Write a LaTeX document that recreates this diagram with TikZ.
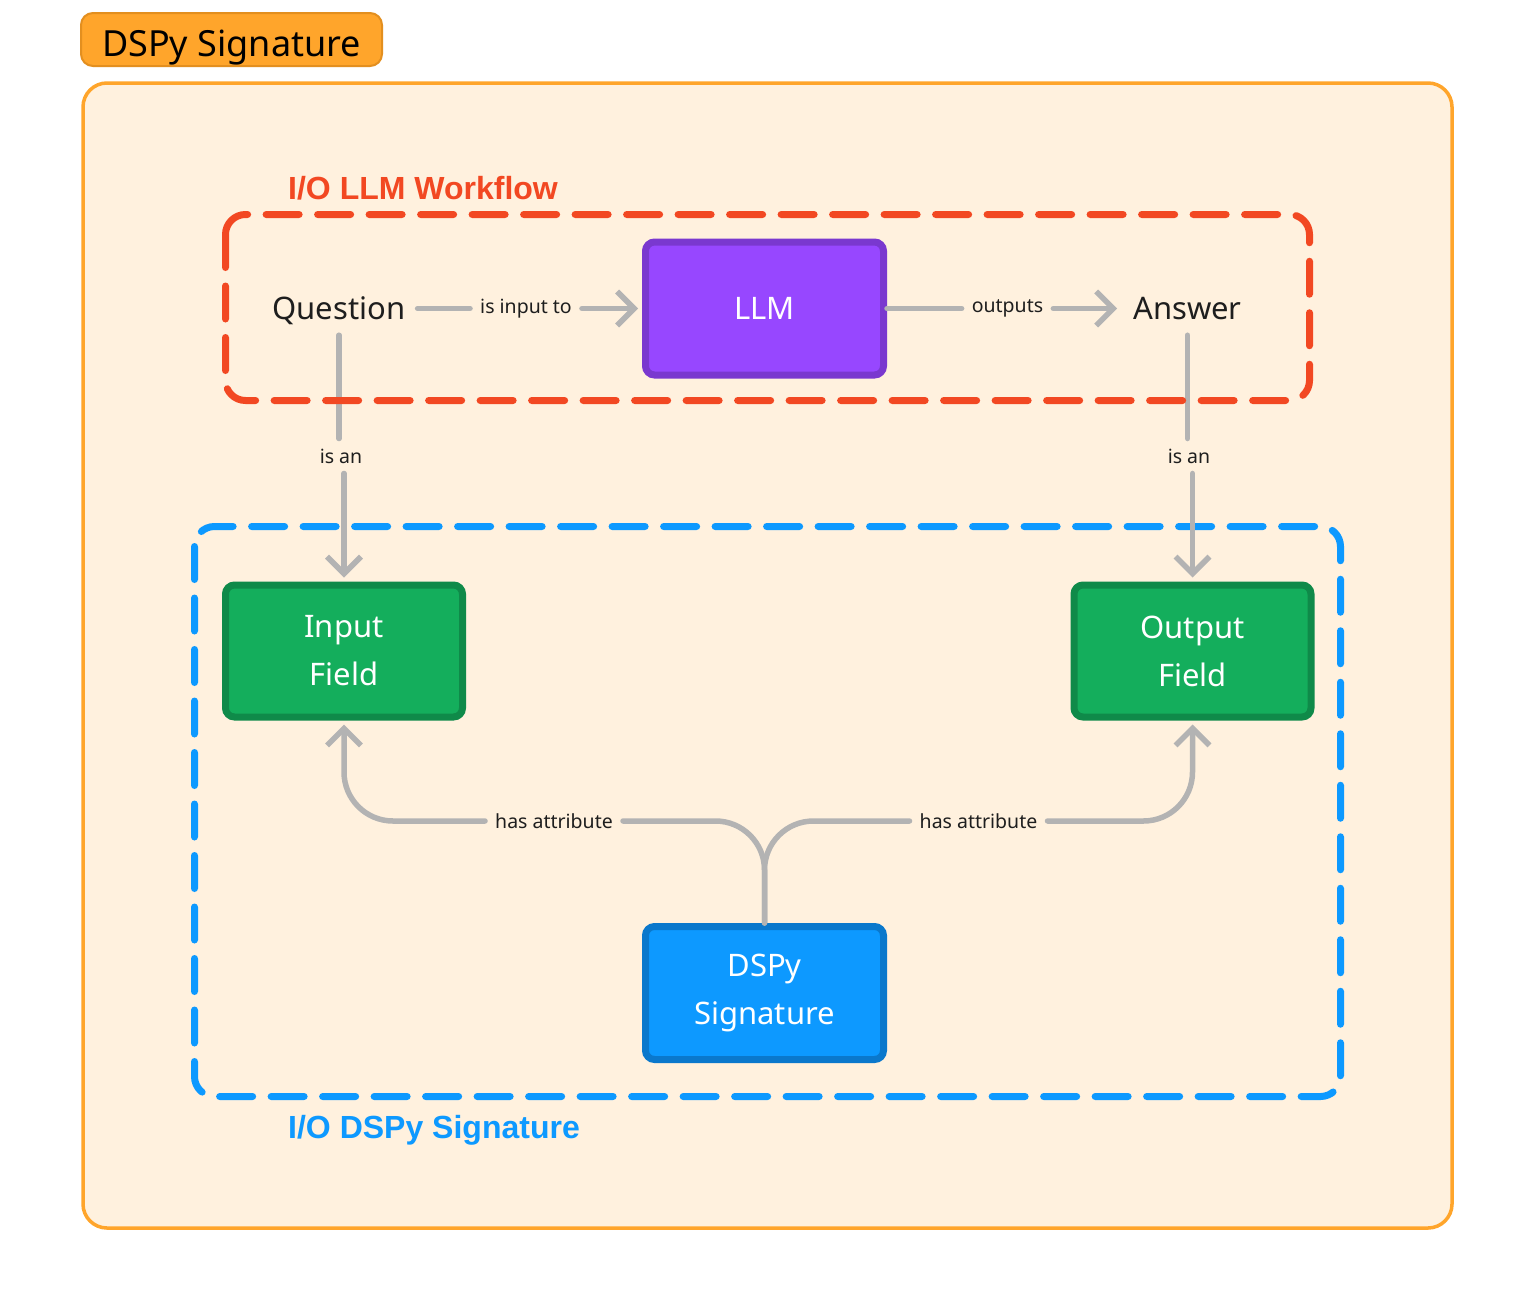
\documentclass[tikz,border=0pt]{standalone}
\usepackage{fontspec}
\setmainfont{Noto Sans}
\newfontfamily\groupfont{Liberation Sans}
\usetikzlibrary{arrows.meta}
\definecolor{peach}{HTML}{FFF1DE}
\definecolor{orangeline}{HTML}{FFA52B}
\definecolor{titleline}{HTML}{E38F1F}
\definecolor{redline}{HTML}{F24822}
\definecolor{blueline}{HTML}{0D99FF}
\definecolor{linkgray}{HTML}{B3B3B3}
\definecolor{llmfill}{HTML}{9747FF}
\definecolor{llmline}{HTML}{7A38CF}
\definecolor{fieldfill}{HTML}{14AE5C}
\definecolor{fieldline}{HTML}{0F8A49}
\definecolor{sigfill}{HTML}{0D99FF}
\definecolor{sigline}{HTML}{0A78CC}
\definecolor{ink}{HTML}{1E1E1E}
\begin{document}
\begin{tikzpicture}[x=1pt,y=-1pt,
  box/.style={draw,line width=7pt,rounded corners=9pt,text=white,align=center,font=\fontsize{31}{48}\selectfont,minimum width=238pt,minimum height=133pt,inner sep=0pt},
  term/.style={text=ink,font=\fontsize{31}{36}\selectfont,inner sep=12pt,text height=25pt,text depth=4pt},
  tag/.style={text=ink,font=\fontsize{19.5}{22}\selectfont,inner sep=10pt},
  link/.style={draw=linkgray,line width=5.5pt,line cap=round,line join=round},
  arrowto/.style={-{Straight Barb[length=17pt,width=34pt]},shorten >=4pt},
  groupframe/.style={line width=7pt,dash pattern=on 33pt off 18.5pt,line cap=round,rounded corners=20pt},
  grouplabel/.style={font=\groupfont\bfseries\fontsize{32}{36}\selectfont,anchor=base west,inner sep=0pt}]
\path[use as bounding box,fill=white] (0,0) rectangle (1536,1312);
\node[fill=orangeline,draw=titleline,line width=2pt,rounded corners=12pt,minimum width=301pt,minimum height=53pt,inner sep=0pt,text height=33pt,text depth=0pt,font=\fontsize{36}{40}\selectfont] (title) at (231.5,39.5) {DSPy Signature};
\fill[peach,draw=orangeline,line width=3.5pt,rounded corners=24pt] (83,83) rectangle (1452,1228);
\draw[groupframe,blueline] (194.5,526.5) rectangle (1340.5,1096.5);
\node[grouplabel,text=redline] (wflabel) at (288,199) {I/O LLM Workflow};
\node[grouplabel,text=blueline] (siglabel) at (288,1138) {I/O DSPy Signature};
\node[term] (question) at (339,308.5) {Question};
\node[box,fill=llmfill,draw=llmline] (llm) at (764.5,308.5) {LLM};
\node[term] (answer) at (1187.5,308.5) {Answer};
\node[box,fill=fieldfill,draw=fieldline,minimum width=237pt,minimum height=132pt] (input) at (344,651) {Input\\Field};
\node[box,fill=fieldfill,draw=fieldline,minimum width=237pt,minimum height=132pt] (output) at (1192.5,651) {Output\\Field};
\node[box,fill=sigfill,draw=sigline] (sig) at (764.5,993) {DSPy\\Signature};
\node[tag] (isinput) at (526,308.5) {is input to};
\node[tag] (outputs) at (1007.5,308.5) {outputs};
\node[tag] (isanleft) at (341,456) {is an};
\node[tag] (isanright) at (1189,456) {is an};
\node[tag] (hasleft) at (554,821) {has attribute};
\node[tag] (hasright) at (978.5,821) {has attribute};
\draw[link] (question) -- (isinput);
\draw[link,arrowto] (isinput) -- (llm);
\draw[link] (llm) -- (outputs);
\draw[link,arrowto] (outputs) -- (answer);
\draw[link] (question) -- (question |- isanleft.north);
\draw[link,arrowto] (input |- isanleft.south) -- (input);
\draw[link] (answer) -- (answer |- isanright.north);
\draw[link,arrowto] (output |- isanright.south) -- (output);
\draw[link,rounded corners=49pt] (sig) |- (hasleft);
\draw[link,arrowto,rounded corners=49pt] (hasleft) -| (input);
\draw[link,rounded corners=49pt] (sig) |- (hasright);
\draw[link,arrowto,rounded corners=49pt] (hasright) -| (output);
\draw[groupframe,redline] (225.5,214.5) rectangle (1309.5,400.5);
\end{tikzpicture}
\end{document}
